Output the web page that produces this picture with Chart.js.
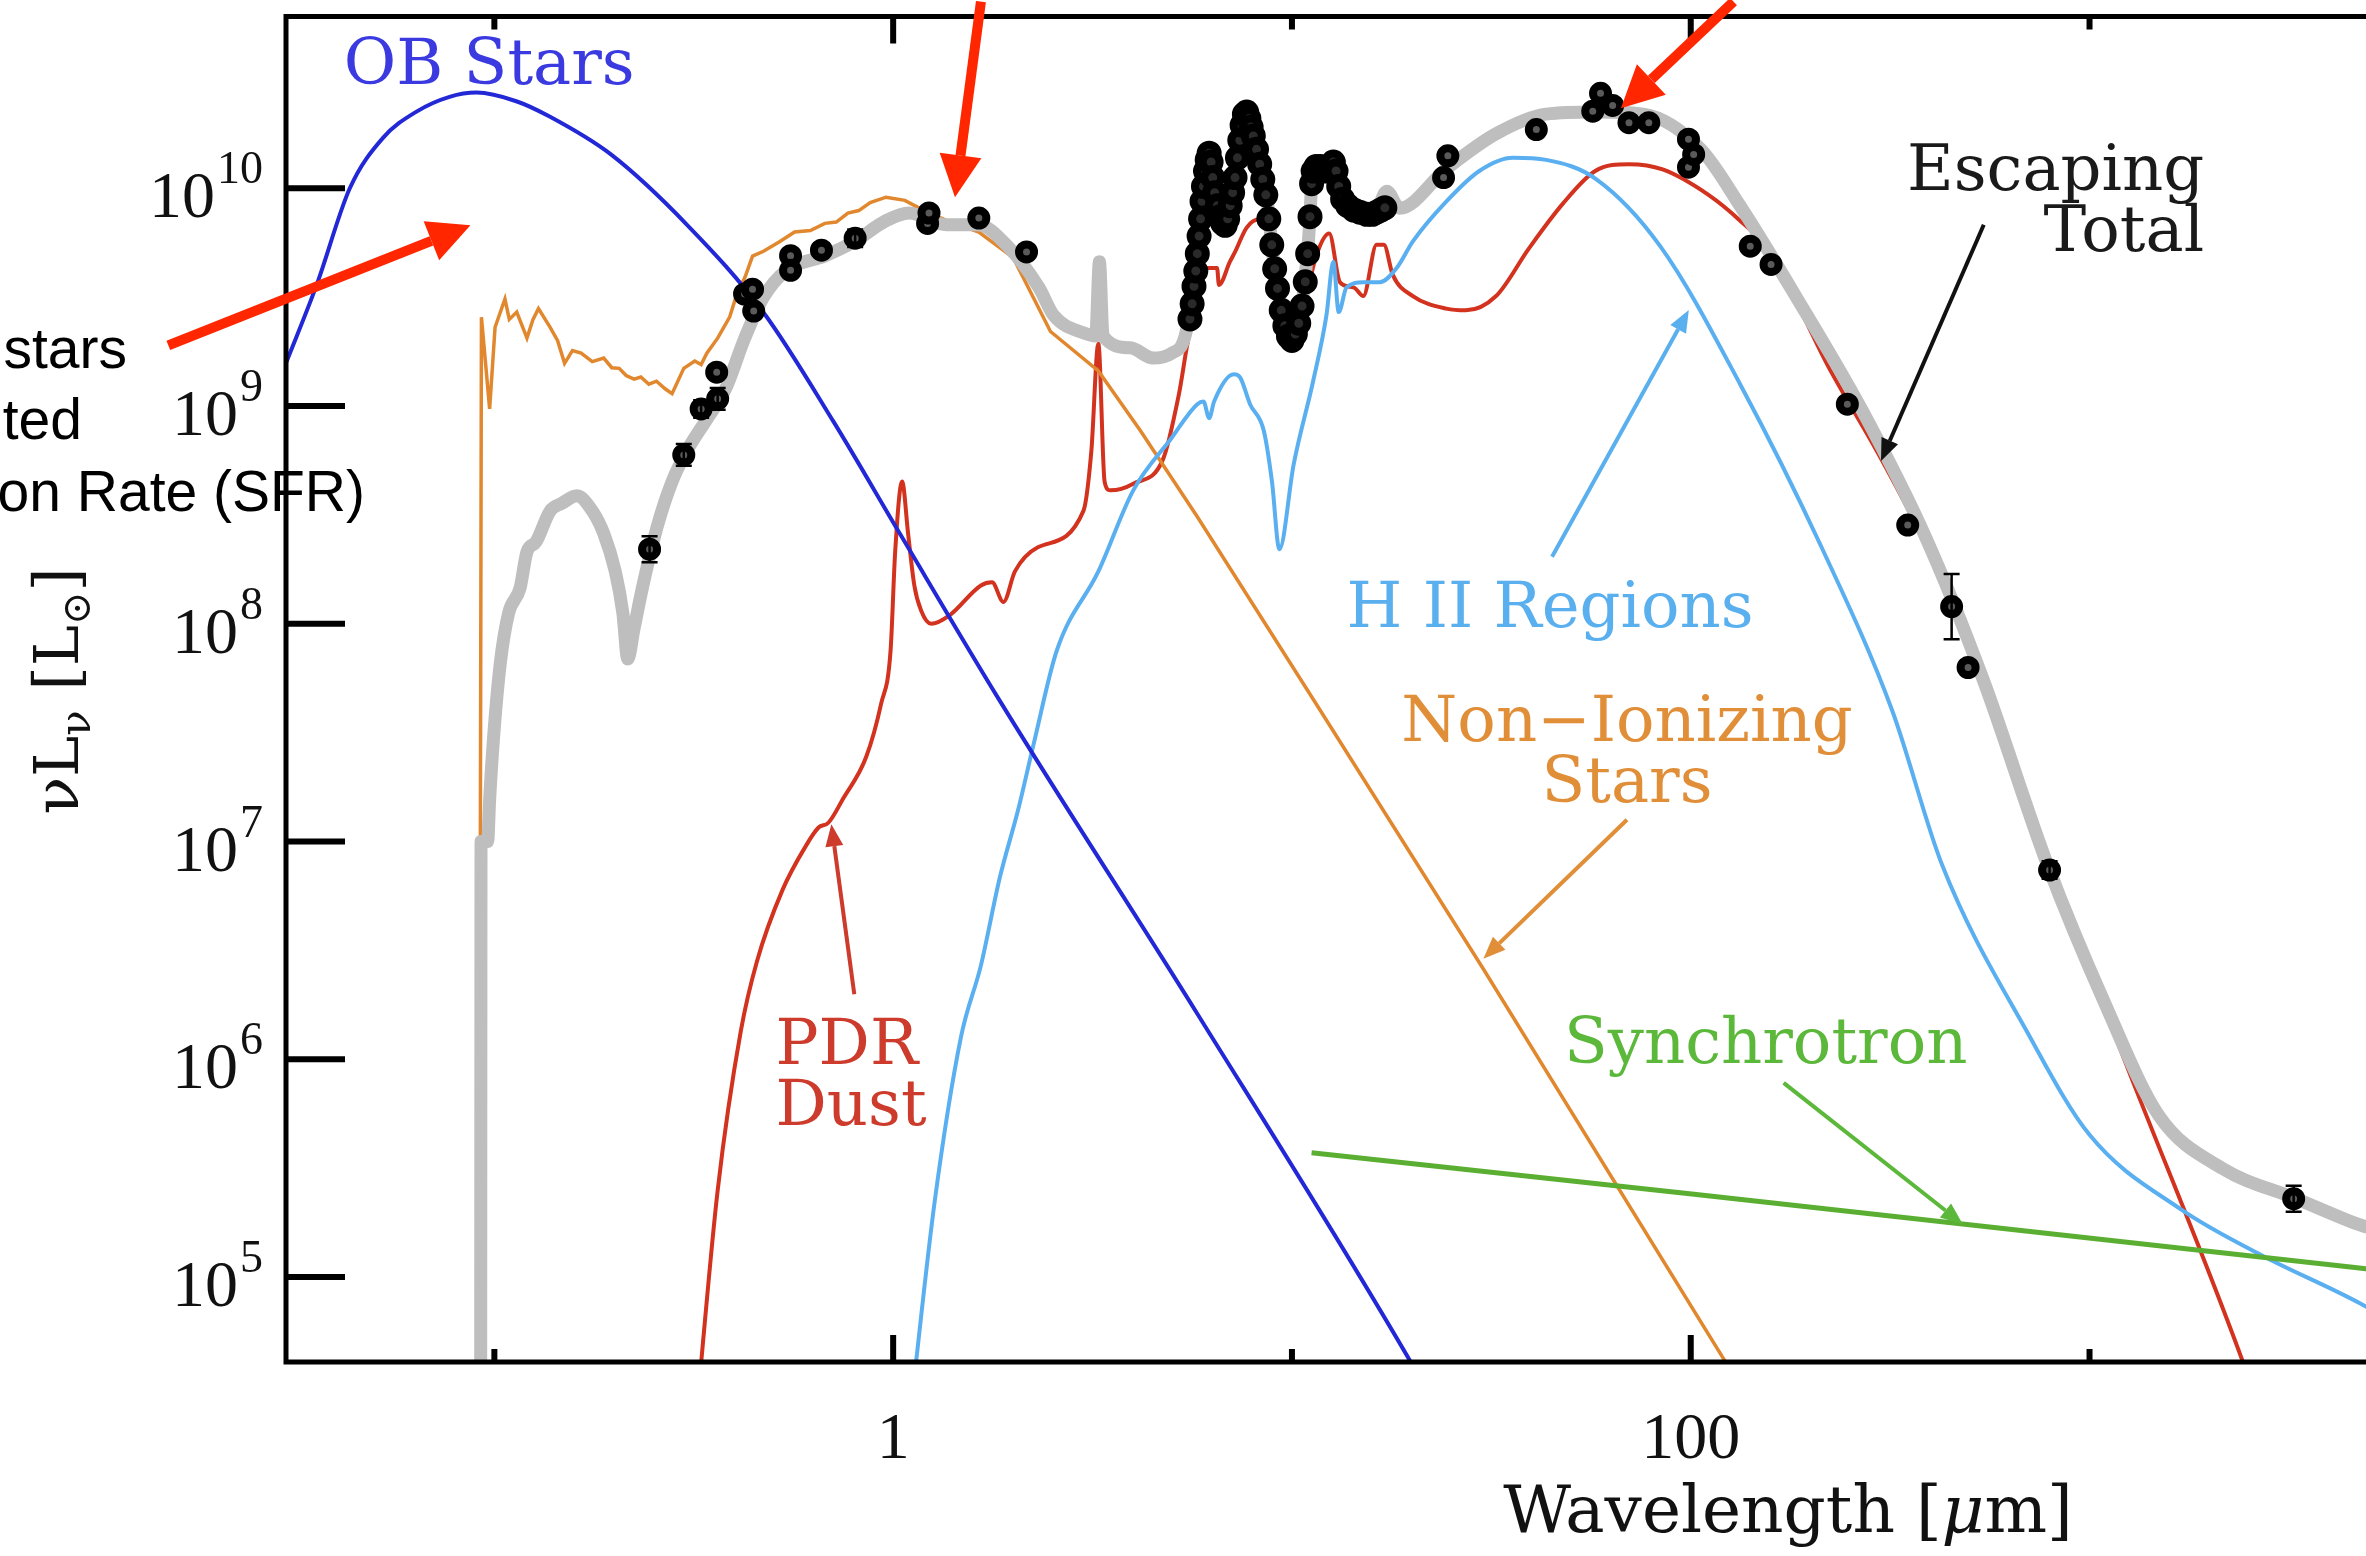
<!DOCTYPE html>
<html>
<head>
<meta charset="utf-8">
<script src="https://cdn.jsdelivr.net/npm/chart.js@4.4.0/dist/chart.umd.min.js"></script>
<style>
  html, body { margin: 0; padding: 0; background: #fff; overflow: hidden; }
  #wrap { position: relative; width: 2440px; height: 1556px; }
</style>
</head>
<body>
<div id="wrap"><canvas id="sed"></canvas></div>
<script>
// wavelength [micron], nuL_nu [L_sun]
const obStars = [[0.0300,1.57e9],[0.0359,3.63e9],[0.0434,1.0e10],[0.0525,1.70e10],[0.0638,2.25e10],[0.0772,2.63e10],[0.0902,2.75e10],[0.1135,2.51e10],[0.1372,2.14e10],[0.196,1.43e10],[0.305,6.76e9],[0.473,2.69e9],[0.708,8.5e8],[1.04,2.59e8],[1.85,4.44e7],[5.79,1.62e6],[20.0,3.98e4],[22.0,2.9e4]];

const nonIonizing = [[0.0922,8e6],[0.0928,2.56e9],[0.0973,9.7e8],[0.1004,2.3e9],[0.1063,3.1e9],[0.109,2.5e9],[0.1138,2.7e9],[0.1207,2.05e9],[0.125,2.5e9],[0.129,2.8e9],[0.138,2.3e9],[0.144,2.0e9],[0.150,1.57e9],[0.157,1.8e9],[0.165,1.75e9],[0.176,1.6e9],[0.188,1.66e9],[0.197,1.5e9],[0.2056,1.49e9],[0.214,1.38e9],[0.224,1.33e9],[0.233,1.36e9],[0.244,1.26e9],[0.255,1.3e9],[0.268,1.2e9],[0.279,1.14e9],[0.2985,1.49e9],[0.318,1.61e9],[0.33,1.55e9],[0.341,1.75e9],[0.363,2.05e9],[0.389,2.56e9],[0.407,3.33e9],[0.425,3.9e9],[0.444,4.88e9],[0.473,5.14e9],[0.52,5.7e9],[0.566,6.3e9],[0.62,6.4e9],[0.674,6.9e9],[0.72,7.0e9],[0.77,7.7e9],[0.82,7.9e9],[0.876,8.6e9],[0.96,9.1e9],[1.07,8.8e9],[1.195,7.9e9],[1.364,7.1e9],[1.64,6.3e9],[2.0,4.8e9],[2.48,2.2e9],[3.27,1.45e9],[4.17,7.7e8],[5.79,3.1e8],[11.4,4.4e7],[30.2,2.6e6],[122,4.1e4],[150,2.2e4]];

const pdrDust = [[0.325,3.0e4],[0.363,2.5e5],[0.415,1.35e6],[0.455,2.8e6],[0.528,6.0e6],[0.603,9.5e6],[0.65,1.16e7],[0.688,1.22e7],[0.75,1.58e7],[0.856,2.45e7],[0.933,4.3e7],[0.985,7.5e7],[1.012,2.16e8],[1.053,4.5e8],[1.09,2.6e8],[1.13,1.5e8],[1.175,1.15e8],[1.245,1.0e8],[1.39,1.1e8],[1.66,1.5e8],[1.77,1.55e8],[1.89,1.26e8],[2.02,1.74e8],[2.3,2.24e8],[3.0,3.3e8],[3.14,6.2e8],[3.27,1.93e9],[3.39,4.5e8],[3.5,4.1e8],[4.0,4.4e8],[4.76,5.75e8],[5.2,1.12e9],[5.55,2.2e9],[5.79,2.63e9],[5.95,4.3e9],[6.49,4.3e9],[6.56,3.6e9],[6.99,4.6e9],[7.2,5.1e9],[7.7,6.6e9],[8.3,7.2e9],[8.6,6.5e9],[9.3,2.5e9],[9.9,1.9e9],[10.5,2.2e9],[11.0,3.5e9],[11.55,5.0e9],[12.4,6.2e9],[13.2,3.7e9],[14.3,3.5e9],[15.1,3.2e9],[16.3,5.5e9],[17.0,5.5e9],[17.9,4.0e9],[20.1,3.2e9],[24.4,2.8e9],[27.3,2.75e9],[32.5,3.2e9],[39.3,5.3e9],[47.8,8.5e9],[57.6,1.2e10],[70,1.29e10],[85,1.22e10],[111,9.3e9],[133,7.1e9],[154,5.4e9],[184,3.0e9],[220,1.55e9],[296,6.0e8],[388,2.3e8],[540,5.2e7],[826,6.6e6],[1186,1.15e6],[2410,4.2e4],[2600,2.8e4]];

const hiiRegions = [[1.12,3e4],[1.27,2.2e5],[1.48,1.27e6],[1.66,2.7e6],[1.85,6.8e6],[2.06,1.41e7],[2.25,2.8e7],[2.57,7.5e7],[3.27,1.74e8],[4.0,4.1e8],[4.98,7.1e8],[5.79,1.02e9],[6.0,1.05e9],[6.2,8.8e8],[6.38,1.05e9],[7.15,1.4e9],[7.42,1.35e9],[7.85,1.02e9],[8.5,7.7e8],[8.91,4.5e8],[9.3,2.2e8],[10.1,5.4e8],[11.3,1.3e9],[12.2,2.6e9],[12.7,4.6e9],[13.1,2.7e9],[13.7,3.5e9],[15.1,3.7e9],[16.6,3.7e9],[18.3,4.3e9],[20.1,5.7e9],[24.4,8.7e9],[29.5,1.2e10],[35.8,1.38e10],[43.4,1.35e10],[58,1.1e10],[84,5.4e9],[133,1.26e9],[213,2.24e8],[320,4.0e7],[427,7.8e6],[700,1.32e6],[1000,4.5e5],[1700,2.04e5],[2700,1.26e5],[4750,7.6e4],[7000,5.0e4]];

const synchrotron = [[11.2,3.72e5],[102,2.4e5],[4750,1.1e5],[7000,1.01e5]];

const escapingTotal = [[0.0924,3e4],[0.0926,1.0e7],[0.0962,1.0e7],[0.0973,1.55e7],[0.0994,2.9e7],[0.1035,6.6e7],[0.1086,1.12e8],[0.116,1.46e8],[0.1207,2.14e8],[0.127,2.37e8],[0.138,3.3e8],[0.1475,3.57e8],[0.161,3.87e8],[0.176,3.3e8],[0.188,2.6e8],[0.201,1.74e8],[0.21,1.12e8],[0.216,6.9e7],[0.224,9.5e7],[0.235,1.46e8],[0.256,2.79e8],[0.279,4.5e8],[0.305,6.3e8],[0.341,8.7e8],[0.38,1.2e9],[0.424,2.04e9],[0.473,3.16e9],[0.54,4.2e9],[0.676,4.9e9],[0.80,5.7e9],[0.96,7.1e9],[1.096,7.7e9],[1.36,6.8e9],[1.63,6.8e9],[1.94,5.4e9],[2.32,3.5e9],[2.53,2.6e9],[3.02,2.16e9],[3.22,2.1e9],[3.29,4.6e9],[3.36,2.1e9],[3.93,1.85e9],[4.49,1.66e9],[5.0,1.75e9],[5.46,2.3e9],[5.55,3.13e9],[5.79,4.17e9],[5.9,5.6e9],[6.0,8.1e9],[6.2,1.41e10],[6.4,9.3e9],[6.8,6.8e9],[7.2,1.07e10],[7.6,2.14e10],[8.0,1.78e10],[8.6,1.0e10],[9.0,4.6e9],[9.3,3.16e9],[9.9,2.0e9],[10.5,2.63e9],[11.0,5.75e9],[11.3,1.2e10],[12.0,1.26e10],[12.7,1.32e10],[13.2,8.9e9],[14.3,7.9e9],[15.4,7.6e9],[16.3,7.9e9],[17.3,9.7e9],[18.6,8.1e9],[24.4,1.23e10],[32.5,1.78e10],[43.4,2.19e10],[58,2.24e10],[76,2.19e10],[106,1.51e10],[133,8.3e9],[184,3.16e9],[267,9.8e8],[388,2.5e8],[540,5.6e7],[785,7.8e6],[1085,1.86e6],[1494,5.5e5],[2150,3.16e5],[3300,2.29e5],[4750,1.74e5],[7000,1.41e5]];

// observed photometry and its error (dex)
const photometry = [[0.245,2.2e8],[0.2985,5.96e8],[0.330,9.7e8],[0.361,1.43e9],[0.363,1.08e9],[0.424,3.27e9],[0.444,3.44e9],[0.447,2.73e9],[0.553,4.9e9],[0.553,4.2e9],[0.661,5.2e9],[0.803,5.9e9],[1.22,6.9e9],[1.23,7.7e9],[1.64,7.3e9],[2.16,5.1e9],[24.0,1.12e10],[24.6,1.41e10],[41,1.86e10],[56.8,2.26e10],[59.4,2.73e10],[63.7,2.4e10],[70,2.0e10],[78.5,2.0e10],[98.7,1.25e10],[98.7,1.68e10],[101.7,1.43e10],[141,5.42e9],[159,4.47e9],[247,1.02e9],[350,2.84e8],[451,1.2e8],[496,6.3e7],[794,7.4e6],[3250,2.29e5]];
const photometryErr = [0.06,0.05,0.04,0,0.05,0,0,0,0,0,0,0.04,0,0,0,0,0,0,0,0,0,0,0,0,0,0,0,0,0,0,0,0.15,0,0.04,0.06];

// IRS spectrum points
const irsSpectrum = [[5.55,2.51e9],[5.62,2.95e9],[5.68,3.55e9],[5.74,4.17e9],[5.79,5.01e9],[5.85,6.03e9],[5.9,7.24e9],[5.95,8.71e9],[6.0,1.02e10],[6.07,1.20e10],[6.13,1.35e10],[6.2,1.45e10],[6.27,1.32e10],[6.33,1.12e10],[6.4,9.55e9],[6.5,8.32e9],[6.6,7.41e9],[6.7,6.92e9],[6.8,6.76e9],[6.9,7.24e9],[7.0,8.32e9],[7.1,9.55e9],[7.2,1.12e10],[7.3,1.38e10],[7.4,1.66e10],[7.5,1.95e10],[7.6,2.19e10],[7.7,2.24e10],[7.8,2.09e10],[7.9,1.91e10],[8.0,1.74e10],[8.15,1.51e10],[8.3,1.29e10],[8.45,1.10e10],[8.6,9.33e9],[8.75,7.24e9],[8.9,5.50e9],[9.05,4.27e9],[9.2,3.47e9],[9.4,2.75e9],[9.6,2.34e9],[9.8,2.09e9],[10.0,2.0e9],[10.2,2.14e9],[10.4,2.40e9],[10.6,2.88e9],[10.8,3.72e9],[10.95,5.01e9],[11.1,7.41e9],[11.2,1.05e10],[11.3,1.20e10],[11.5,1.26e10],[11.8,1.26e10],[12.1,1.20e10],[12.4,1.23e10],[12.7,1.32e10],[12.9,1.20e10],[13.1,1.02e10],[13.4,8.91e9],[13.8,8.32e9],[14.3,7.94e9],[14.8,7.76e9],[15.4,7.59e9],[15.9,7.59e9],[16.3,7.76e9],[16.7,7.94e9],[17.1,8.13e9]];

const yTicks = [1e5, 1e6, 1e7, 1e8, 1e9, 1e10];
const xMajorTicks = [1, 100];
const xMinorTicks = [0.1, 10, 1000];

// annotation labels and pointers, placed in data coordinates
const notes = [
  { lines: ['OB Stars'], at: [0.0419, 3.0e10], color: '#3a3ae0', align: 'left' },
  { lines: ['Escaping', 'Total'], at: [1939, 9.8e9], color: '#1a1a1a', align: 'right' },
  { lines: ['H II Regions'], at: [13.7, 9.7e7], color: '#5ab0ee', align: 'left' },
  { lines: ['Non\u2212Ionizing', 'Stars'], at: [69.2, 2.9e7], color: '#e08e38', align: 'center' },
  { lines: ['PDR', 'Dust'], at: [0.507, 9.5e5], color: '#cc3b2b', align: 'left' },
  { lines: ['Synchrotron'], at: [48.1, 9.6e5], color: '#5cb83a', align: 'left' }
];
const pointers = [
  { from: [44.9, 2.03e8], to: [98.9, 2.76e9], color: '#5ab0ee' },
  { from: [543, 6.8e9], to: [300, 5.6e8], color: '#111' },
  { from: [69.2, 1.26e7], to: [30.2, 2.9e6], color: '#e08e38' },
  { from: [171, 7.8e5], to: [481, 1.75e5], color: '#5cb83a' },
  { from: [0.799, 1.99e6], to: [0.70, 1.2e7], color: '#cc3b2b' }
];
const callouts = [
  { from: [0.01522, 1.9e9], to: [0.0871, 6.76e9] },
  { from: [1.66, 7.2e10], to: [1.429, 9.1e9] },
  { from: [128, 7.2e10], to: [66.8, 2.33e10] }
];

function arrow(ctx, x0, y0, x1, y1, color, lw, hl, hw) {
  const a = Math.atan2(y1 - y0, x1 - x0);
  const bx = x1 - hl * Math.cos(a), by = y1 - hl * Math.sin(a);
  ctx.strokeStyle = color;
  ctx.lineWidth = lw;
  ctx.beginPath();
  ctx.moveTo(x0, y0);
  ctx.lineTo(bx, by);
  ctx.stroke();
  ctx.fillStyle = color;
  ctx.beginPath();
  ctx.moveTo(x1, y1);
  ctx.lineTo(bx + hw * Math.sin(a), by - hw * Math.cos(a));
  ctx.lineTo(bx - hw * Math.sin(a), by + hw * Math.cos(a));
  ctx.closePath();
  ctx.fill();
}

const decor = {
  id: 'decor',
  afterDatasetsDraw(chart) {
    const { ctx, chartArea: a, scales: { x, y } } = chart;
    const px = v => x.getPixelForValue(v);
    const py = v => y.getPixelForValue(v);
    ctx.save();

    // error bars
    ctx.strokeStyle = '#000';
    ctx.lineWidth = 2.5;
    photometry.forEach((p, i) => {
      const e = photometryErr[i];
      if (!e) return;
      const xx = px(p[0]), lo = py(p[1] / Math.pow(10, e)), hi = py(p[1] * Math.pow(10, e));
      ctx.beginPath();
      ctx.moveTo(xx, lo); ctx.lineTo(xx, hi);
      ctx.moveTo(xx - 8, lo); ctx.lineTo(xx + 8, lo);
      ctx.moveTo(xx - 8, hi); ctx.lineTo(xx + 8, hi);
      ctx.stroke();
    });

    // component labels
    ctx.font = '64px "DejaVu Serif"';
    ctx.textBaseline = 'alphabetic';
    notes.forEach(n => {
      ctx.fillStyle = n.color;
      ctx.textAlign = n.align;
      n.lines.forEach((t, k) => ctx.fillText(t, px(n.at[0]), py(n.at[1]) + k * 61));
    });
    pointers.forEach(p => arrow(ctx, px(p.from[0]), py(p.from[1]), px(p.to[0]), py(p.to[1]), p.color, 4, 22, 9));

    // frame and inward ticks
    ctx.strokeStyle = '#000';
    ctx.lineWidth = 5;
    ctx.strokeRect(a.left, a.top, a.right - a.left, a.bottom - a.top);
    ctx.lineWidth = 6;
    yTicks.forEach(v => {
      ctx.beginPath();
      ctx.moveTo(a.left, py(v)); ctx.lineTo(a.left + 59, py(v));
      ctx.stroke();
    });
    const xt = (v, len) => {
      ctx.beginPath();
      ctx.moveTo(px(v), a.bottom); ctx.lineTo(px(v), a.bottom - len);
      ctx.moveTo(px(v), a.top); ctx.lineTo(px(v), a.top + len);
      ctx.stroke();
    };
    xMajorTicks.forEach(v => xt(v, 27));
    xMinorTicks.forEach(v => xt(v, 13));

    // tick labels
    ctx.fillStyle = '#111';
    ctx.textAlign = 'right';
    yTicks.forEach(v => {
      const ex = String(Math.round(Math.log10(v)));
      const base = py(v) + 29;
      ctx.font = '46px "Liberation Serif"';
      const ew = ctx.measureText(ex).width;
      ctx.fillText(ex, 263, base - 34);
      ctx.font = '66px "Liberation Serif"';
      ctx.fillText('10', 263 - ew - 2, base);
    });
    ctx.textAlign = 'center';
    ctx.font = '66px "Liberation Serif"';
    xMajorTicks.forEach(v => ctx.fillText(String(v), px(v), 1458));

    // axis titles
    ctx.textAlign = 'left';
    const xt1 = 'Wavelength [', xt2 = '\u03bc', xt3 = 'm]';
    ctx.font = '66px "DejaVu Serif"';
    const w1 = ctx.measureText(xt1).width, w3 = ctx.measureText(xt3).width;
    ctx.font = 'italic 66px "DejaVu Serif"';
    const w2 = ctx.measureText(xt2).width;
    let sx = 1788 - (w1 + w2 + w3) / 2;
    ctx.font = '66px "DejaVu Serif"';
    ctx.fillText(xt1, sx, 1532);
    ctx.font = 'italic 66px "DejaVu Serif"';
    ctx.fillText(xt2, sx + w1, 1532);
    ctx.font = '66px "DejaVu Serif"';
    ctx.fillText(xt3, sx + w1 + w2, 1532);

    ctx.save();
    ctx.translate(78, 691);
    ctx.rotate(-Math.PI / 2);
    const parts = [['\u03bdL', 62, 0], ['\u03bd', 42, 12], [' [L', 62, 0], ['\u2299', 40, 12], [']', 62, 0]];
    let tw = 0;
    parts.forEach(p => { ctx.font = p[1] + 'px "DejaVu Serif"'; tw += ctx.measureText(p[0]).width; });
    let cx = -tw / 2;
    parts.forEach(p => {
      ctx.font = p[1] + 'px "DejaVu Serif"';
      ctx.fillText(p[0], cx, p[2]);
      cx += ctx.measureText(p[0]).width;
    });
    ctx.restore();

    // overlay notes
    ctx.fillStyle = '#000';
    ctx.textAlign = 'right';
    ctx.font = '57px "Liberation Sans"';
    ctx.fillText('stars', 127, 368);
    ctx.fillText('ted', 82, 439);
    ctx.fillText('ion Rate (SFR)', 365, 511);
    callouts.forEach(c => arrow(ctx, px(c.from[0]), py(c.from[1]), px(c.to[0]), py(c.to[1]), '#ff2600', 10, 42, 21));

    ctx.restore();
  }
};

function curve(pairs, color, width, order, smooth) {
  return {
    data: pairs.map(p => ({ x: p[0], y: p[1] })),
    showLine: true,
    borderColor: color,
    borderWidth: width,
    pointRadius: 0,
    pointHoverRadius: 0,
    fill: false,
    order: order,
    clip: 0,
    tension: 0,
    cubicInterpolationMode: smooth ? 'monotone' : 'default'
  };
}

function dots(pairs, radius, fillColor) {
  return {
    data: pairs.map(p => ({ x: p[0], y: p[1] })),
    showLine: false,
    pointRadius: radius,
    pointBorderWidth: 8,
    pointBorderColor: '#000',
    pointBackgroundColor: fillColor,
    order: 0
  };
}

new Chart(document.getElementById('sed'), {
  type: 'scatter',
  data: {
    datasets: [
      dots(irsSpectrum, 8.5, '#2a2a2a'),
      dots(photometry, 7.5, '#5a5a5a'),
      curve(synchrotron, '#5aaf32', 5, 1, false),
      curve(obStars, '#2328d7', 4, 2, true),
      curve(hiiRegions, '#5aaff0', 4, 3, true),
      curve(escapingTotal, '#bebebe', 13, 4, true),
      curve(nonIonizing, '#e1872d', 3.5, 5, false),
      curve(pdrDust, '#d2321e', 4, 6, true)
    ]
  },
  options: {
    responsive: true,
    maintainAspectRatio: false,
    devicePixelRatio: 1,
    animation: false,
    events: [],
    layout: { padding: { left: 0, right: 10, top: 15, bottom: 0 } },
    plugins: { legend: { display: false }, tooltip: { enabled: false } },
    scales: {
      x: {
        type: 'logarithmic', min: 0.030026, max: 6878, bounds: 'data',
        ticks: { display: false }, grid: { display: false }, border: { display: false },
        afterFit: s => { s.height = 194; }
      },
      y: {
        type: 'logarithmic', min: 40738, max: 6.15e10, bounds: 'data',
        ticks: { display: false }, grid: { display: false }, border: { display: false },
        afterFit: s => { s.width = 286; }
      }
    }
  },
  plugins: [decor]
});
</script>
</body>
</html>
